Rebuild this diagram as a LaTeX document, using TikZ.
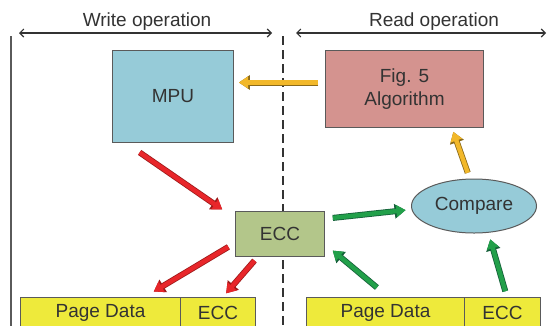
\documentclass[tikz,border=0pt]{standalone}
\usepackage{fontspec}
\setmainfont{Liberation Sans}
\usetikzlibrary{arrows.meta,shapes.geometric}
\definecolor{txt}{HTML}{333333}
\definecolor{edge}{HTML}{5A5A5A}
\definecolor{bluef}{HTML}{96CBD8}
\definecolor{pinkf}{HTML}{D4938F}
\definecolor{greenf}{HTML}{B3C68A}
\definecolor{yellowf}{HTML}{EEEA3B}
\definecolor{redA}{HTML}{E8262A}
\definecolor{redO}{HTML}{9E1A1A}
\definecolor{grnA}{HTML}{22A04A}
\definecolor{grnO}{HTML}{15603A}
\definecolor{orgA}{HTML}{F2B82A}
\definecolor{orgO}{HTML}{8A6A1A}
\tikzset{
  box/.style={draw=edge, line width=1pt, inner sep=0pt, text=txt, anchor=north west,
    font=\fontsize{19}{23}\selectfont, align=center},
  lbl/.style={text=txt, inner sep=0pt, anchor=base, font=\fontsize{19}{23}\selectfont},
  fat/.style 2 args={preaction={draw=#2, line width=6pt, -{Triangle[length=11pt,width=14pt]}},
    draw=#1, line width=4.4pt, shorten >=0.9pt, shorten <=0.8pt,
    -{Triangle[length=9.2pt,width=11.6pt]}},
  redarrow/.style={fat={redA}{redO}},
  grnarrow/.style={fat={grnA}{grnO}},
  orgarrow/.style={fat={orgA}{orgO}},
  span/.style={draw=txt, line width=1.1pt, {Straight Barb[length=4pt,width=8pt]}-{Straight Barb[length=4pt,width=8pt]}}
}
\begin{document}
\begin{tikzpicture}[x=1pt,y=-1pt]
\clip (0,0) rectangle (548,325);
\fill[white] (0,0) rectangle (548,325);
% header
\node[lbl] (wlab) at (147,26) {Write operation};
\node[lbl] (rlab) at (434,26) {Read operation};
\coordinate (wa) at (19,33);
\coordinate (wb) at (272,33);
\coordinate (ra) at (296,33);
\coordinate (rb) at (546,33);
\draw[span] (wa) -- (wb);
\draw[span] (ra) -- (rb);
\coordinate (lt) at (11,36);
\coordinate (lb) at (11,330);
\coordinate (dt) at (283,36);
\coordinate (db) at (283,330);
\draw[edge, line width=1.3pt] (lt) -- (lb);
\draw[txt, line width=1.1pt, dash pattern=on 9pt off 5pt] (dt) -- (db);
% boxes
\node[box, fill=bluef, minimum width=121pt, minimum height=92pt] (mpu) at (112,50) {MPU};
\node[box, fill=pinkf, minimum width=158pt, minimum height=77pt] (fig) at (325,50) {Fig. 5\\Algorithm};
\node[box, fill=greenf, minimum width=89pt, minimum height=45pt] (ecc) at (235,211) {ECC};
\node[draw=edge, line width=1pt, fill=bluef, ellipse, inner sep=0pt, minimum width=125pt,
  minimum height=54pt, text=txt, font=\fontsize{19}{23}\selectfont] (cmp) at (474,206) {Compare};
\node[box, fill=yellowf, minimum width=160pt, minimum height=30pt] (pdL) at (20,297) {Page Data};
\node[box, fill=yellowf, minimum width=75pt, minimum height=30pt] (eccL) at (180,297) {ECC};
\node[box, fill=yellowf, minimum width=158pt, minimum height=30pt] (pdR) at (306,297) {Page Data};
\node[box, fill=yellowf, minimum width=76pt, minimum height=30pt] (eccR) at (464,297) {ECC};
% arrows
\draw[redarrow] ([shift={(27,9)}]mpu.south west) -- ([shift={(-12,-1)}]ecc.north west);
\draw[redarrow] ([shift={(-6,12.5)}]ecc.west) -- ([shift={(-28,-5)}]pdL.north east);
\draw[redarrow] ([shift={(20,3)}]ecc.south west) -- ([shift={(7.5,-3)}]eccL.north);
\draw[grnarrow] ([shift={(7,7)}]ecc.north east) -- ([shift={(-4.5,4)}]cmp.west);
\draw[grnarrow] ([shift={(-8,-9)}]pdR.north) -- ([shift={(7,-7)}]ecc.south east);
\draw[grnarrow] ([shift={(3,-5)}]eccR.north) -- ([shift={(16,5)}]cmp.south);
\draw[orgarrow] ([shift={(-6,-5)}]cmp.north) -- ([shift={(-31,3)}]fig.south east);
\draw[orgarrow] ([shift={(-6,-6.5)}]fig.west) -- ([shift={(4,-14)}]mpu.east);
\end{tikzpicture}
\end{document}
